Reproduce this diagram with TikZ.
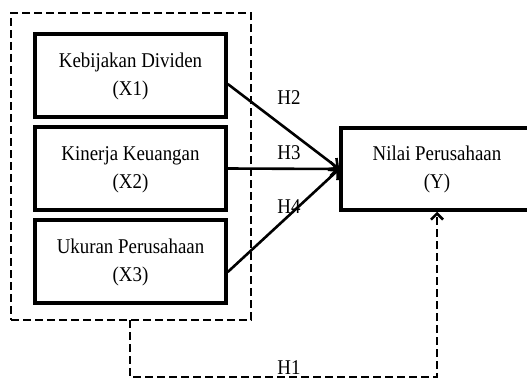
\documentclass[tikz,border=0pt]{standalone}
\usepackage{fontspec}
\setmainfont{Liberation Serif}
\newfontfamily\narrowserif[FakeStretch=0.9]{Liberation Serif}
\usetikzlibrary{arrows.meta}
\newcommand\twoline[2]{\raisebox{-6pt}{\begin{tabular}{@{}c@{}}#1\\#2\end{tabular}}}
\begin{document}
\begin{tikzpicture}[x=1pt,y=-1pt,
  varbox/.style={draw,line width=3.5pt,rectangle,minimum width=191pt,minimum height=83pt,
    font=\narrowserif\fontsize{21}{28}\selectfont,inner sep=0pt},
  grp/.style={draw,line width=2.8pt,dash pattern=on 8pt off 4pt},
  hyp/.style={line width=2.6pt,-{Straight Barb[length=7pt,width=14pt,line width=2.6pt]}},
  hlab/.style={font=\narrowserif\fontsize{21}{22}\selectfont,inner sep=0pt}]
\useasboundingbox (0,0) rectangle (527,380);
\node[varbox] (x1) at (130.5,75.5) {\twoline{Kebijakan Dividen}{(X1)}};
\node[varbox] (x2) at (130.5,168.5) {\twoline{Kinerja Keuangan}{(X2)}};
\node[varbox] (x3) at (130.5,261.5) {\twoline{Ukuran Perusahaan}{(X3)}};
\node[varbox,minimum width=192pt,minimum height=82pt] (y) at (437,169) {\twoline{Nilai Perusahaan}{(Y)}};
\node[grp,rectangle,minimum width=240pt,minimum height=307pt,inner sep=0pt] (g) at (131,166.5) {};
\coordinate (tip) at (y.west);
\coordinate (gb) at (130,320);
\draw[hyp] (x1.east |- 0,84) -- (tip);
\draw[hyp] (x2.east) -- (tip);
\draw[hyp] (x3.east |- 0,272) -- (tip);
\draw[line width=2.8pt,dash pattern=on 8pt off 4pt,-{Straight Barb[length=6pt,width=12pt,line width=2.6pt]}]
  (gb) -- (130,377) -- (437,377) -- (y.south -| 437,0);
\node[hlab] (h2) at (289,98) {H2};
\node[hlab] (h3) at (289,153) {H3};
\node[hlab] (h4) at (289,207) {H4};
\node[hlab] (h1) at (289,368) {H1};
\end{tikzpicture}
\end{document}
